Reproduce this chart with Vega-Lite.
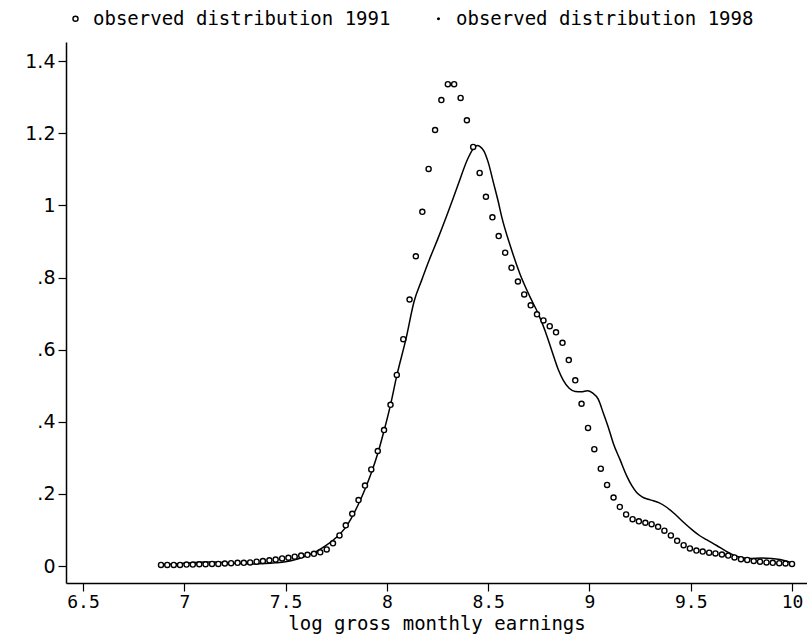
{
"$schema": "https://vega.github.io/schema/vega-lite/v6.json",
"width": 741, "height": 541,
"autosize": "none",
"padding": {"left": 66, "top": 42, "right": 0, "bottom": 61},
"background": "white",
"config": {"view": {"stroke": null}, "axis": {"grid": false, "domainColor": "black", "domainWidth": 1.5, "tickColor": "black", "tickWidth": 1.2, "tickSize": 8, "labelColor": "black", "titleColor": "black"},
 "legend": {"labelLimit": 0}},
"datasets": {
"d1991": [
{"x":6.885,"y":0.003,"s":"observed distribution 1991"},{"x":6.916,"y":0.003,"s":"observed distribution 1991"},{"x":6.948,"y":0.003,"s":"observed distribution 1991"},{"x":6.979,"y":0.003,"s":"observed distribution 1991"},{"x":7.011,"y":0.004,"s":"observed distribution 1991"},{"x":7.042,"y":0.004,"s":"observed distribution 1991"},{"x":7.074,"y":0.005,"s":"observed distribution 1991"},{"x":7.105,"y":0.005,"s":"observed distribution 1991"},{"x":7.137,"y":0.006,"s":"observed distribution 1991"},{"x":7.168,"y":0.006,"s":"observed distribution 1991"},
{"x":7.200,"y":0.007,"s":"observed distribution 1991"},{"x":7.231,"y":0.008,"s":"observed distribution 1991"},{"x":7.263,"y":0.009,"s":"observed distribution 1991"},{"x":7.294,"y":0.009,"s":"observed distribution 1991"},{"x":7.325,"y":0.010,"s":"observed distribution 1991"},{"x":7.357,"y":0.012,"s":"observed distribution 1991"},{"x":7.388,"y":0.014,"s":"observed distribution 1991"},{"x":7.420,"y":0.016,"s":"observed distribution 1991"},{"x":7.451,"y":0.018,"s":"observed distribution 1991"},{"x":7.483,"y":0.021,"s":"observed distribution 1991"},
{"x":7.514,"y":0.023,"s":"observed distribution 1991"},{"x":7.545,"y":0.026,"s":"observed distribution 1991"},{"x":7.577,"y":0.029,"s":"observed distribution 1991"},{"x":7.608,"y":0.031,"s":"observed distribution 1991"},{"x":7.640,"y":0.034,"s":"observed distribution 1991"},{"x":7.671,"y":0.038,"s":"observed distribution 1991"},{"x":7.703,"y":0.046,"s":"observed distribution 1991"},{"x":7.734,"y":0.063,"s":"observed distribution 1991"},{"x":7.766,"y":0.085,"s":"observed distribution 1991"},{"x":7.797,"y":0.113,"s":"observed distribution 1991"},
{"x":7.829,"y":0.145,"s":"observed distribution 1991"},{"x":7.860,"y":0.183,"s":"observed distribution 1991"},{"x":7.892,"y":0.223,"s":"observed distribution 1991"},{"x":7.923,"y":0.268,"s":"observed distribution 1991"},{"x":7.955,"y":0.319,"s":"observed distribution 1991"},{"x":7.986,"y":0.377,"s":"observed distribution 1991"},{"x":8.018,"y":0.447,"s":"observed distribution 1991"},{"x":8.049,"y":0.530,"s":"observed distribution 1991"},{"x":8.081,"y":0.629,"s":"observed distribution 1991"},{"x":8.112,"y":0.739,"s":"observed distribution 1991"},
{"x":8.143,"y":0.859,"s":"observed distribution 1991"},{"x":8.175,"y":0.982,"s":"observed distribution 1991"},{"x":8.206,"y":1.101,"s":"observed distribution 1991"},{"x":8.238,"y":1.209,"s":"observed distribution 1991"},{"x":8.269,"y":1.292,"s":"observed distribution 1991"},{"x":8.301,"y":1.336,"s":"observed distribution 1991"},{"x":8.332,"y":1.336,"s":"observed distribution 1991"},{"x":8.364,"y":1.298,"s":"observed distribution 1991"},{"x":8.395,"y":1.236,"s":"observed distribution 1991"},{"x":8.426,"y":1.162,"s":"observed distribution 1991"},
{"x":8.458,"y":1.090,"s":"observed distribution 1991"},{"x":8.489,"y":1.024,"s":"observed distribution 1991"},{"x":8.521,"y":0.967,"s":"observed distribution 1991"},{"x":8.552,"y":0.915,"s":"observed distribution 1991"},{"x":8.584,"y":0.869,"s":"observed distribution 1991"},{"x":8.615,"y":0.827,"s":"observed distribution 1991"},{"x":8.647,"y":0.789,"s":"observed distribution 1991"},{"x":8.678,"y":0.753,"s":"observed distribution 1991"},{"x":8.710,"y":0.723,"s":"observed distribution 1991"},{"x":8.741,"y":0.698,"s":"observed distribution 1991"},
{"x":8.773,"y":0.681,"s":"observed distribution 1991"},{"x":8.804,"y":0.665,"s":"observed distribution 1991"},{"x":8.835,"y":0.648,"s":"observed distribution 1991"},{"x":8.867,"y":0.619,"s":"observed distribution 1991"},{"x":8.898,"y":0.571,"s":"observed distribution 1991"},{"x":8.930,"y":0.515,"s":"observed distribution 1991"},{"x":8.961,"y":0.450,"s":"observed distribution 1991"},{"x":8.993,"y":0.383,"s":"observed distribution 1991"},{"x":9.024,"y":0.324,"s":"observed distribution 1991"},{"x":9.056,"y":0.270,"s":"observed distribution 1991"},
{"x":9.087,"y":0.225,"s":"observed distribution 1991"},{"x":9.119,"y":0.190,"s":"observed distribution 1991"},{"x":9.150,"y":0.164,"s":"observed distribution 1991"},{"x":9.181,"y":0.143,"s":"observed distribution 1991"},{"x":9.213,"y":0.130,"s":"observed distribution 1991"},{"x":9.244,"y":0.124,"s":"observed distribution 1991"},{"x":9.276,"y":0.120,"s":"observed distribution 1991"},{"x":9.307,"y":0.116,"s":"observed distribution 1991"},{"x":9.339,"y":0.109,"s":"observed distribution 1991"},{"x":9.370,"y":0.098,"s":"observed distribution 1991"},
{"x":9.402,"y":0.085,"s":"observed distribution 1991"},{"x":9.433,"y":0.070,"s":"observed distribution 1991"},{"x":9.465,"y":0.058,"s":"observed distribution 1991"},{"x":9.496,"y":0.049,"s":"observed distribution 1991"},{"x":9.528,"y":0.043,"s":"observed distribution 1991"},{"x":9.559,"y":0.040,"s":"observed distribution 1991"},{"x":9.591,"y":0.037,"s":"observed distribution 1991"},{"x":9.622,"y":0.035,"s":"observed distribution 1991"},{"x":9.654,"y":0.032,"s":"observed distribution 1991"},{"x":9.685,"y":0.029,"s":"observed distribution 1991"},
{"x":9.716,"y":0.024,"s":"observed distribution 1991"},{"x":9.748,"y":0.019,"s":"observed distribution 1991"},{"x":9.779,"y":0.017,"s":"observed distribution 1991"},{"x":9.811,"y":0.014,"s":"observed distribution 1991"},{"x":9.842,"y":0.012,"s":"observed distribution 1991"},{"x":9.874,"y":0.010,"s":"observed distribution 1991"},{"x":9.905,"y":0.009,"s":"observed distribution 1991"},{"x":9.937,"y":0.008,"s":"observed distribution 1991"},{"x":9.968,"y":0.007,"s":"observed distribution 1991"},{"x":10.000,"y":0.006,"s":"observed distribution 1991"}
],
"d1998": [
{"x":6.885,"y":0.004},{"x":6.95,"y":0.006},{"x":7.0,"y":0.008},{"x":7.05,"y":0.010},{"x":7.1,"y":0.011},{"x":7.15,"y":0.011},{"x":7.2,"y":0.010},{"x":7.25,"y":0.008},{"x":7.3,"y":0.007},{"x":7.35,"y":0.006},{"x":7.4,"y":0.007},{"x":7.45,"y":0.009},{"x":7.5,"y":0.012},{"x":7.55,"y":0.018},{"x":7.6,"y":0.028},{"x":7.65,"y":0.040},{"x":7.7,"y":0.057},{"x":7.75,"y":0.079},{"x":7.8,"y":0.110},{"x":7.86,"y":0.172},{"x":7.892,"y":0.213},{"x":7.923,"y":0.258},{"x":7.955,"y":0.312},{"x":7.986,"y":0.375},{"x":8.018,"y":0.447},{"x":8.049,"y":0.528},{"x":8.094,"y":0.629},{"x":8.135,"y":0.735},{"x":8.17,"y":0.79},{"x":8.21,"y":0.85},{"x":8.25,"y":0.905},{"x":8.3,"y":0.978},{"x":8.35,"y":1.055},{"x":8.4,"y":1.13},{"x":8.43,"y":1.16},{"x":8.447,"y":1.166},{"x":8.46,"y":1.163},{"x":8.48,"y":1.15},{"x":8.5,"y":1.12},{"x":8.527,"y":1.061},{"x":8.55,"y":1.01},{"x":8.567,"y":0.968},{"x":8.608,"y":0.89},{"x":8.657,"y":0.81},{"x":8.706,"y":0.747},{"x":8.747,"y":0.70},{"x":8.78,"y":0.654},{"x":8.813,"y":0.599},{"x":8.846,"y":0.545},{"x":8.871,"y":0.515},{"x":8.90,"y":0.493},{"x":8.93,"y":0.484},{"x":8.96,"y":0.483},{"x":8.99,"y":0.486},{"x":9.015,"y":0.48},{"x":9.044,"y":0.462},{"x":9.068,"y":0.425},{"x":9.093,"y":0.385},{"x":9.118,"y":0.340},{"x":9.151,"y":0.295},{"x":9.184,"y":0.250},{"x":9.21,"y":0.222},{"x":9.233,"y":0.204},{"x":9.26,"y":0.192},{"x":9.29,"y":0.185},{"x":9.315,"y":0.181},{"x":9.345,"y":0.175},{"x":9.381,"y":0.163},{"x":9.42,"y":0.145},{"x":9.463,"y":0.122},{"x":9.51,"y":0.099},{"x":9.545,"y":0.084},{"x":9.578,"y":0.073},{"x":9.628,"y":0.057},{"x":9.67,"y":0.043},{"x":9.71,"y":0.031},{"x":9.75,"y":0.024},{"x":9.8,"y":0.021},{"x":9.85,"y":0.022},{"x":9.9,"y":0.021},{"x":9.941,"y":0.018},{"x":9.97,"y":0.014},{"x":10.0,"y":0.008}
]
},
"layer": [
{
"data": {"name": "d1998"},
"mark": {"type": "line", "color": "black", "strokeWidth": 1.5, "interpolate": "monotone"},
"encoding": {
"x": {"field": "x", "type": "quantitative", "scale": {"domain": [6.416, 10.074], "nice": false, "zero": false},
 "axis": {"values": [6.5,7,7.5,8,8.5,9,9.5,10], "format": ".1~f", "labelFont": "DejaVu Sans Mono", "labelFontSize": 18, "labelPadding": 2, "title": "log gross monthly earnings", "titleFont": "DejaVu Sans Mono", "titleFontSize": 19, "titleFontWeight": "normal", "titlePadding": 3}},
"y": {"field": "y", "type": "quantitative", "scale": {"domain": [-0.047, 1.453], "nice": false, "zero": false},
 "axis": {"values": [0,0.2,0.4,0.6,0.8,1,1.2,1.4], "labelExpr": "datum.value == 0 ? '0' : (datum.value < 1 ? replace(format(datum.value, '.1f'), '0.', '.') : format(datum.value, '.1~f'))", "labelFont": "DejaVu Sans", "labelFontSize": 19, "labelPadding": 3, "title": null}}
}
},
{
"data": {"name": "d1991"},
"mark": {"type": "point", "filled": false, "stroke": "black", "strokeWidth": 1.4, "opacity": 1},
"encoding": {
"x": {"field": "x", "type": "quantitative"},
"y": {"field": "y", "type": "quantitative"},
"shape": {"field": "s", "type": "nominal", "scale": {"domain": ["observed distribution 1991", "observed distribution 1998"], "range": ["circle", "circle"]},
 "legend": {"orient": "none", "legendX": 0, "legendY": -33, "direction": "horizontal", "title": null, "labelFont": "DejaVu Sans Mono", "labelFontSize": 19, "labelColor": "black", "labelLimit": 0, "columnPadding": 38, "labelOffset": 8, "symbolStrokeColor": "black", "symbolStrokeWidth": 1.4, "symbolOpacity": 1,
  "encode": {"symbols": {"update": {"stroke": {"value": "black"}, "strokeWidth": {"value": 1.4}, "opacity": {"value": 1}}}}}},
"size": {"field": "s", "type": "nominal", "scale": {"domain": ["observed distribution 1991", "observed distribution 1998"], "range": [26, 3]},
 "legend": {"orient": "none", "legendX": 0, "legendY": -33, "direction": "horizontal", "title": null, "labelFont": "DejaVu Sans Mono", "labelFontSize": 19, "labelColor": "black", "labelLimit": 0, "columnPadding": 38, "labelOffset": 8, "symbolStrokeColor": "black", "symbolStrokeWidth": 1.4, "symbolOpacity": 1,
  "encode": {"symbols": {"update": {"stroke": {"value": "black"}, "strokeWidth": {"value": 1.4}, "opacity": {"value": 1}}}}}},
"fill": {"field": "s", "type": "nominal", "scale": {"domain": ["observed distribution 1991", "observed distribution 1998"], "range": ["white", "black"]},
 "legend": {"orient": "none", "legendX": 0, "legendY": -33, "direction": "horizontal", "title": null, "labelFont": "DejaVu Sans Mono", "labelFontSize": 19, "labelColor": "black", "labelLimit": 0, "columnPadding": 38, "labelOffset": 8, "symbolStrokeColor": "black", "symbolStrokeWidth": 1.4, "symbolOpacity": 1,
  "encode": {"symbols": {"update": {"stroke": {"value": "black"}, "strokeWidth": {"value": 1.4}, "opacity": {"value": 1}}}}}}
}
}
]
}
